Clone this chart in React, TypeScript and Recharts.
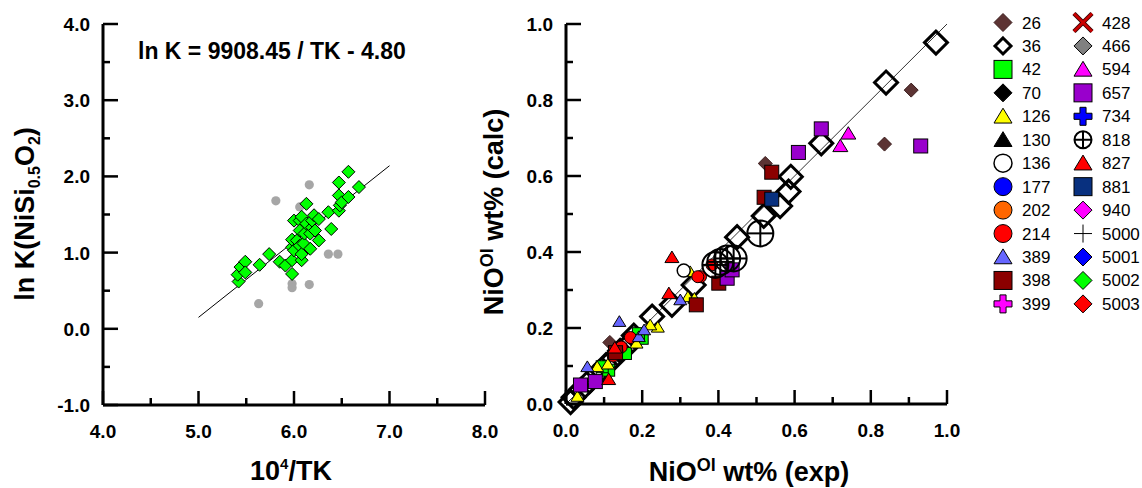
import React from "react";
import { ReferenceLine, Scatter, ScatterChart, XAxis, YAxis } from "recharts";

const FONT = '"Liberation Sans", Arial, Helvetica, sans-serif';

// ---- left panel: ln K vs 10^4/TK
const greenPts = [
  [5.42, 0.62], [5.41, 0.71], [5.44, 0.81], [5.49, 0.88], [5.49, 0.74], [5.64, 0.84], [5.74, 0.98],
  [5.85, 0.88], [5.91, 0.83], [5.98, 0.72], [5.98, 0.9], [5.98, 1.07], [5.98, 1.17], [6.0, 1.03],
  [6.0, 1.42], [6.03, 1.16], [6.06, 1.42], [6.08, 1.47], [6.06, 1.29], [6.06, 1.09], [6.08, 0.9],
  [6.08, 0.98], [6.1, 1.12], [6.11, 1.25], [6.13, 1.64], [6.13, 1.38], [6.17, 1.25], [6.17, 1.05],
  [6.19, 1.33], [6.19, 1.42], [6.21, 1.49], [6.22, 1.29], [6.26, 1.44], [6.26, 1.16], [6.36, 1.53],
  [6.39, 1.31], [6.47, 1.92], [6.47, 1.75], [6.47, 1.55], [6.48, 1.62], [6.5, 1.66], [6.57, 2.06],
  [6.57, 1.73], [6.68, 1.86],
];
const greyPts = [
  [5.63, 0.33], [5.81, 1.68], [6.16, 1.89], [6.06, 1.6], [5.98, 0.59], [5.98, 0.54], [6.16, 0.58],
  [6.36, 0.98], [6.46, 0.98],
];
const fitLine = [[5.0, 0.15], [7.0, 2.14]];
const leftXTicks = [4, 4.5, 5, 5.5, 6, 6.5, 7, 7.5, 8];
const leftYTicks = [-1, -0.5, 0, 0.5, 1, 1.5, 2, 2.5, 3, 3.5, 4];

// ---- right panel: NiO calc vs exp
const rightTicks = [0, 0.1, 0.2, 0.3, 0.4, 0.5, 0.6, 0.7, 0.8, 0.9, 1.0];
const diagLine = [[0, 0], [1, 1]];

const seriesNames = [
  "26", "36", "42", "70", "126", "130", "136", "177", "202", "214", "389", "398", "399",
  "428", "466", "594", "657", "734", "818", "827", "881", "940", "5000", "5001", "5002", "5003",
];

const pts26 = [[0.906, 0.826], [0.836, 0.684], [0.523, 0.633], [0.115, 0.162]];
const pts36 = [
  [0.971, 0.951], [0.84, 0.846], [0.67, 0.686], [0.59, 0.598], [0.584, 0.559], [0.562, 0.521],
  [0.519, 0.495], [0.449, 0.439], [0.335, 0.313], [0.278, 0.261], [0.226, 0.23], [0.178, 0.18],
  [0.16, 0.152], [0.142, 0.14], [0.125, 0.12], [0.105, 0.102], [0.085, 0.082], [0.062, 0.06],
  [0.04, 0.038], [0.02, 0.018], [0.012, 0.005],
];
const pts42 = [[0.2, 0.173], [0.156, 0.133], [0.112, 0.089], [0.095, 0.098], [0.19, 0.185]];
const pts126 = [
  [0.326, 0.348], [0.32, 0.282], [0.337, 0.278], [0.241, 0.202], [0.221, 0.208], [0.185, 0.16],
  [0.082, 0.098], [0.03, 0.02], [0.11, 0.105],
];
const pts136 = [[0.309, 0.351]];
const pts214 = [
  [0.383, 0.366], [0.353, 0.335], [0.346, 0.335], [0.169, 0.175], [0.145, 0.15], [0.134, 0.138],
  [0.124, 0.126],
];
const pts389 = [[0.14, 0.217], [0.191, 0.177], [0.056, 0.098], [0.3, 0.274], [0.205, 0.195]];
const pts398 = [[0.54, 0.61], [0.52, 0.544], [0.401, 0.318], [0.342, 0.261], [0.13, 0.135]];
const pts594 = [[0.741, 0.712], [0.72, 0.679]];
const pts657 = [
  [0.67, 0.724], [0.61, 0.662], [0.931, 0.679], [0.423, 0.331], [0.436, 0.353], [0.038, 0.05],
  [0.077, 0.059],
];
const pts818 = [[0.51, 0.449], [0.44, 0.383], [0.423, 0.383], [0.405, 0.374], [0.392, 0.366]];
const pts827 = [[0.278, 0.386], [0.27, 0.291], [0.112, 0.065], [0.128, 0.148]];
const pts881 = [[0.54, 0.539]];

const seriesPts: Record<string, number[][]> = {
  "26": pts26, "36": pts36, "42": pts42, "126": pts126, "136": pts136, "214": pts214,
  "389": pts389, "398": pts398, "594": pts594, "657": pts657, "818": pts818, "827": pts827,
  "881": pts881,
};

type Style = { kind: string; fill: string; stroke: string; sw: number; size: number };
const seriesStyle: Record<string, Style> = {
  "26": { kind: "diamond", fill: "#5c3333", stroke: "#3a1c1c", sw: 1, size: 14 },
  "36": { kind: "diamond", fill: "none", stroke: "#000", sw: 3, size: 23 },
  "42": { kind: "square", fill: "#00ff00", stroke: "#000", sw: 1, size: 12 },
  "70": { kind: "diamond", fill: "#000", stroke: "#000", sw: 1, size: 13 },
  "126": { kind: "triangle", fill: "#ffff00", stroke: "#000", sw: 1, size: 13 },
  "130": { kind: "triangle", fill: "#000", stroke: "#000", sw: 1, size: 13 },
  "136": { kind: "circle", fill: "#fff", stroke: "#000", sw: 1.5, size: 13 },
  "177": { kind: "circle", fill: "#0000ff", stroke: "#000", sw: 1, size: 12 },
  "202": { kind: "circle", fill: "#ff6600", stroke: "#000", sw: 1, size: 12 },
  "214": { kind: "circle", fill: "#ff0000", stroke: "#000", sw: 1, size: 12 },
  "389": { kind: "triangle", fill: "#6666ff", stroke: "#000", sw: 1, size: 13 },
  "398": { kind: "square", fill: "#8b0000", stroke: "#000", sw: 1, size: 14 },
  "399": { kind: "plus", fill: "#ff00ff", stroke: "#000", sw: 1, size: 14 },
  "428": { kind: "cross", fill: "#cc0000", stroke: "#3a0000", sw: 1, size: 14 },
  "466": { kind: "diamond", fill: "#808080", stroke: "#000", sw: 1, size: 13 },
  "594": { kind: "triangle", fill: "#ff00ff", stroke: "#000", sw: 1, size: 15 },
  "657": { kind: "square", fill: "#9900cc", stroke: "#000", sw: 1, size: 14 },
  "734": { kind: "plus", fill: "#0000ff", stroke: "#000", sw: 1, size: 14 },
  "818": { kind: "circleplus", fill: "none", stroke: "#000", sw: 2, size: 26 },
  "827": { kind: "triangle", fill: "#ff0000", stroke: "#000", sw: 1, size: 14 },
  "881": { kind: "square", fill: "#08307f", stroke: "#000", sw: 1, size: 14 },
  "940": { kind: "diamond", fill: "#ff00ff", stroke: "#000", sw: 1, size: 13 },
  "5000": { kind: "thinplus", fill: "#000", stroke: "#000", sw: 1, size: 14 },
  "5001": { kind: "diamond", fill: "#0000ff", stroke: "#000", sw: 1, size: 13 },
  "5002": { kind: "diamond", fill: "#00ff00", stroke: "#000", sw: 1, size: 13 },
  "5003": { kind: "diamond", fill: "#ff0000", stroke: "#000", sw: 1, size: 13 },
};

const toXY = (arr: number[][]) => arr.map(([x, y]) => ({ x, y }));

type MarkerProps = { kind: string; cx: number; cy: number; s: number; fill: string; stroke: string; sw: number };

function Marker({ kind, cx, cy, s, fill, stroke, sw }: MarkerProps) {
  const h = s / 2;
  if (kind === "diamond") {
    return (
      <polygon
        points={`${cx},${cy - h} ${cx + h},${cy} ${cx},${cy + h} ${cx - h},${cy}`}
        fill={fill}
        stroke={stroke}
        strokeWidth={sw}
      />
    );
  }
  if (kind === "square") {
    return <rect x={cx - h} y={cy - h} width={s} height={s} fill={fill} stroke={stroke} strokeWidth={sw} />;
  }
  if (kind === "triangle") {
    return (
      <polygon
        points={`${cx},${cy - h * 0.9} ${cx + h},${cy + h * 0.75} ${cx - h},${cy + h * 0.75}`}
        fill={fill}
        stroke={stroke}
        strokeWidth={sw}
      />
    );
  }
  if (kind === "circle") {
    return <circle cx={cx} cy={cy} r={h} fill={fill} stroke={stroke} strokeWidth={sw} />;
  }
  if (kind === "plus") {
    const a = s * 0.17;
    const p = [
      [cx - a, cy - h], [cx + a, cy - h], [cx + a, cy - a], [cx + h, cy - a], [cx + h, cy + a],
      [cx + a, cy + a], [cx + a, cy + h], [cx - a, cy + h], [cx - a, cy + a], [cx - h, cy + a],
      [cx - h, cy - a], [cx - a, cy - a],
    ];
    return <polygon points={p.map((q) => q.join(",")).join(" ")} fill={fill} stroke={stroke} strokeWidth={sw} />;
  }
  if (kind === "cross") {
    return (
      <g>
        <line x1={cx - h} y1={cy - h} x2={cx + h} y2={cy + h} stroke={stroke} strokeWidth={4.5} />
        <line x1={cx - h} y1={cy + h} x2={cx + h} y2={cy - h} stroke={stroke} strokeWidth={4.5} />
        <line x1={cx - h} y1={cy - h} x2={cx + h} y2={cy + h} stroke={fill} strokeWidth={2.5} />
        <line x1={cx - h} y1={cy + h} x2={cx + h} y2={cy - h} stroke={fill} strokeWidth={2.5} />
      </g>
    );
  }
  if (kind === "circleplus") {
    return (
      <g fill="none" stroke={stroke} strokeWidth={sw}>
        <circle cx={cx} cy={cy} r={h} />
        <line x1={cx - h} y1={cy} x2={cx + h} y2={cy} />
        <line x1={cx} y1={cy - h} x2={cx} y2={cy + h} />
      </g>
    );
  }
  // thin plus
  return (
    <g stroke={stroke} strokeWidth={1}>
      <line x1={cx - h} y1={cy} x2={cx + h} y2={cy} />
      <line x1={cx} y1={cy - h} x2={cx} y2={cy + h} />
    </g>
  );
}

const tickText = { fontFamily: FONT, fontSize: 19, fontWeight: 700, fill: "#000" } as const;

const xTick = (isMajor: (v: number) => boolean) => (props: any) => {
  const { x, y, payload } = props;
  const v = payload.value as number;
  const major = isMajor(v);
  return (
    <g>
      <line x1={x} x2={x} y1={y} y2={y - (major ? 14 : 7)} stroke="#000" strokeWidth={2.5} />
      {major && (
        <text x={x} y={y + 33} textAnchor="middle" style={tickText}>
          {v.toFixed(1)}
        </text>
      )}
    </g>
  );
};

const yTick = (isMajor: (v: number) => boolean) => (props: any) => {
  const { x, y, payload } = props;
  const v = payload.value as number;
  const major = isMajor(v);
  return (
    <g>
      <line x1={x} x2={x + (major ? 15 : 7)} y1={y} y2={y} stroke="#000" strokeWidth={2.5} />
      {major && (
        <text x={x - 13} y={y + 7} textAnchor="end" style={tickText}>
          {v.toFixed(1)}
        </text>
      )}
    </g>
  );
};

const isInt = (v: number) => Math.abs(v - Math.round(v)) < 1e-6;
const isEvenTenth = (v: number) => Math.round(v * 10) % 2 === 0;
const axisLine = { stroke: "#000", strokeWidth: 3 };

function LeftPanel() {
  return (
    <ScatterChart width={520} height={488} margin={{ top: 24, right: 35, bottom: 43, left: 0 }}>
      <XAxis
        type="number"
        dataKey="x"
        domain={[4, 8]}
        ticks={leftXTicks}
        interval={0}
        height={40}
        tickSize={0}
        tickMargin={0}
        tickLine={false}
        axisLine={axisLine}
        tick={xTick(isInt)}
      />
      <YAxis
        type="number"
        dataKey="y"
        domain={[-1, 4]}
        ticks={leftYTicks}
        interval={0}
        width={103}
        tickSize={0}
        tickMargin={0}
        tickLine={false}
        axisLine={axisLine}
        tick={yTick(isInt)}
      />
      <ReferenceLine
        segment={fitLine.map(([x, y]) => ({ x, y }))}
        stroke="#000"
        strokeWidth={1}
      />
      <Scatter
        data={toXY(greyPts)}
        isAnimationActive={false}
        shape={(p: any) => <circle cx={p.cx} cy={p.cy} r={4.6} fill="#a6a6a6" />}
      />
      <Scatter
        data={toXY(greenPts)}
        isAnimationActive={false}
        shape={(p: any) => (
          <Marker kind="diamond" cx={p.cx} cy={p.cy} s={13} fill="#00ff00" stroke="#000" sw={1} />
        )}
      />
    </ScatterChart>
  );
}

function RightPanel() {
  return (
    <ScatterChart width={520} height={488} margin={{ top: 24, right: 33, bottom: 44, left: 0 }}>
      <XAxis
        type="number"
        dataKey="x"
        domain={[0, 1]}
        ticks={rightTicks}
        interval={0}
        height={40}
        tickSize={0}
        tickMargin={0}
        tickLine={false}
        axisLine={axisLine}
        tick={xTick(isEvenTenth)}
      />
      <YAxis
        type="number"
        dataKey="y"
        domain={[0, 1]}
        ticks={rightTicks}
        interval={0}
        width={106}
        tickSize={0}
        tickMargin={0}
        tickLine={false}
        axisLine={axisLine}
        tick={yTick(isEvenTenth)}
      />
      <ReferenceLine
        segment={diagLine.map(([x, y]) => ({ x, y }))}
        stroke="#333"
        strokeWidth={1}
      />
      {seriesNames.map((name) => {
        const st = seriesStyle[name];
        return (
          <Scatter
            key={name}
            name={name}
            data={toXY(seriesPts[name] ?? [])}
            isAnimationActive={false}
            shape={(p: any) => (
              <Marker kind={st.kind} cx={p.cx} cy={p.cy} s={st.size} fill={st.fill} stroke={st.stroke} sw={st.sw} />
            )}
          />
        );
      })}
    </ScatterChart>
  );
}

function Overlay() {
  const title = { fontFamily: FONT, fontSize: 27, fontWeight: 700, fill: "#000", whiteSpace: "pre" } as const;
  const legendText = { fontFamily: FONT, fontSize: 17, fill: "#000" } as const;
  return (
    <svg width={1142} height={488} style={{ position: "absolute", left: 0, top: 0, pointerEvents: "none" }}>
      <text x={138} y={59} style={{ ...title, fontSize: 23 }}>
        ln K = 9908.45 / TK - 4.80
      </text>
      <text transform="translate(34,214) rotate(-90)" textAnchor="middle" style={title}>
        ln K(NiSi<tspan fontSize={16} dy={6}>0.5</tspan>
        <tspan dy={-6}>O</tspan>
        <tspan fontSize={16} dy={6}>2</tspan>
        <tspan dy={-6}>)</tspan>
      </text>
      <text x={291} y={480} textAnchor="middle" style={title}>
        10<tspan fontSize={15} dy={-11}>4</tspan>
        <tspan dy={11}>/TK</tspan>
      </text>
      <text transform="translate(503,212) rotate(-90)" textAnchor="middle" style={title}>
        NiO<tspan fontSize={18} dy={-10}>Ol</tspan>
        <tspan dy={10}> wt% (calc)</tspan>
      </text>
      <text x={749} y={481} textAnchor="middle" style={title}>
        NiO<tspan fontSize={18} dy={-10}>Ol</tspan>
        <tspan dy={10}> wt% (exp)</tspan>
      </text>
      {seriesNames.map((name, i) => {
        const col = i < 13 ? 0 : 1;
        const row = i % 13;
        const cx = col === 0 ? 1003 : 1083;
        const cy = 22.5 + row * 23.45;
        const st = seriesStyle[name];
        const big = st.kind === "diamond" && st.sw > 2 ? 16 : st.kind === "circleplus" ? 17 : 18;
        return (
          <g key={name}>
            <Marker
              kind={st.kind}
              cx={cx}
              cy={cy}
              s={big}
              fill={st.fill === "none" && st.kind === "diamond" ? "#fff" : st.fill}
              stroke={st.stroke}
              sw={st.sw}
            />
            <text x={cx + 19} y={cy + 6} style={legendText}>
              {name}
            </text>
          </g>
        );
      })}
    </svg>
  );
}

export default function App() {
  return (
    <div style={{ position: "absolute", left: 0, top: 0, width: 1142, height: 488, background: "#fff", fontFamily: FONT }}>
      <div style={{ position: "absolute", left: 0, top: 0 }}>
        <LeftPanel />
      </div>
      <div style={{ position: "absolute", left: 460, top: 0 }}>
        <RightPanel />
      </div>
      <Overlay />
    </div>
  );
}
